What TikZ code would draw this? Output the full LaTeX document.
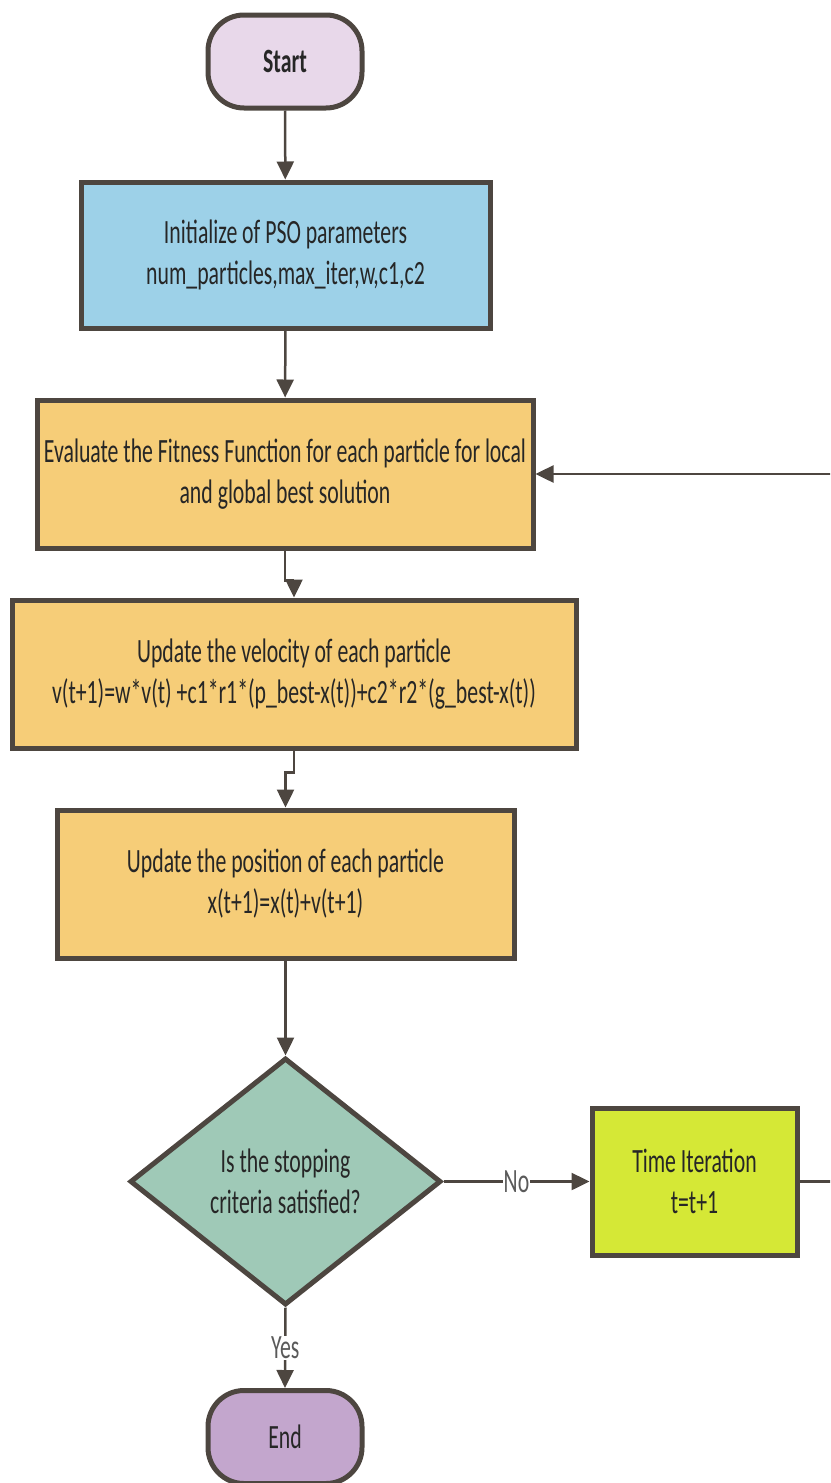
\documentclass[tikz,border=0pt]{standalone}
\usepackage{fontspec}
\setmainfont{Carlito}[FakeStretch=0.64]
\usetikzlibrary{arrows.meta,shapes.geometric}
\definecolor{edge}{HTML}{4D4640}
\definecolor{ink}{HTML}{262626}
\definecolor{startc}{HTML}{E8D8EA}
\definecolor{initc}{HTML}{9DD1E8}
\definecolor{procc}{HTML}{F6CD78}
\definecolor{decc}{HTML}{9FC9B7}
\definecolor{timec}{HTML}{D5E836}
\definecolor{endc}{HTML}{C3A6CD}
\definecolor{lblc}{HTML}{5A5A5A}
\tikzset{
  box/.style={draw=edge, line width=5pt, rectangle, inner sep=0pt, align=center, text=ink, font=\fontsize{34}{41}\selectfont},
  term/.style={box, rounded corners=36pt, minimum width=154pt, minimum height=93pt},
  dec/.style={draw=edge, line width=5pt, diamond, inner sep=0pt, align=center, text=ink, fill=decc, font=\fontsize{34}{41}\selectfont},
  arr/.style={draw=edge, line width=2.5pt, -{Triangle[length=18pt,width=17pt]}},
  lbl/.style={fill=white, inner sep=1pt, text=lblc, font=\fontsize{34}{38}\selectfont}
}
\begin{document}
\begin{tikzpicture}[x=1pt,y=-1pt]
\useasboundingbox (0,0) rectangle (830,1483);
\clip (0,0) rectangle (830,1483);
\node[term, fill=startc, font=\fontsize{34}{41}\selectfont\bfseries] (start) at (285,61.5) {Start};
\node[box, fill=initc, minimum width=409pt, minimum height=146pt] (init) at (285.5,255) {Initialize of PSO parameters\\num\_particles,max\_iter,w,c1,c2};
\node[box, fill=procc, minimum width=496pt, minimum height=148pt] (eval) at (285,474) {Evaluate the Fitness Function for each particle for local\\and global best solution};
\node[box, fill=procc, minimum width=564pt, minimum height=148pt] (vel) at (294,674) {Update the velocity of each particle\\v(t+1)=w*v(t) +c1*r1*(p\_best-x(t))+c2*r2*(g\_best-x(t))};
\node[box, fill=procc, minimum width=457pt, minimum height=148pt] (pos) at (285.5,884) {Update the position of each particle\\x(t+1)=x(t)+v(t+1)};
\node[dec, minimum width=311pt, minimum height=247pt] (decn) at (285.5,1181.5) {Is the stopping\\criteria satisfied?};
\node[box, fill=timec, minimum width=205pt, minimum height=147pt] (time) at (694.5,1181.5) {Time Iteration\\t=t+1};
\node[term, fill=endc] (end) at (285,1437) {End};
\draw[arr] (start) -- (init);
\draw[arr] (init) -- (eval);
\draw[arr] (eval.south) -- ++(0,30) -| (vel.north);
\draw[arr] (vel.south) -- ++(0,22) -| (pos.north);
\draw[arr] (pos) -- (decn);
\draw[arr] (decn.east) -- node[lbl] (no) {No} (time.west);
\draw[arr] (decn.south) -- node[lbl] (yes) {Yes} (end.north);
\draw[arr] (time.east) -- ++(50,0) |- (eval.east);
\end{tikzpicture}
\end{document}
